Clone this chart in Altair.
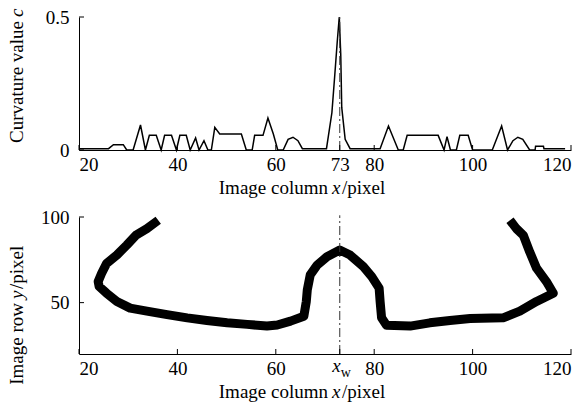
import altair as alt
import pandas as pd

# ---- top panel: curvature value c along image column x ----
col_x = [20, 26, 27, 29, 29.7, 31, 32.5, 33.5, 34.3, 35.7, 36.7, 37.4, 38.8, 39.8,
         40.5, 41.8, 42.6, 43.7, 44.4, 45.4, 46.2, 46.9, 47.6, 48.6, 53.0, 54.0,
         55.2, 55.7, 57.4, 58.4, 59.5, 60.4, 61.5, 62.5, 63.5, 64.5, 65.4, 70.3,
         71.4, 72.0, 72.5, 72.9, 73.2, 73.4, 74.1, 75.1, 81.2, 82.9, 84.9, 85.9,
         86.7, 93.0, 94.2, 94.8, 95.5, 96.7, 97.4, 99.1, 100.0, 104.0, 105.9, 107.1,
         108.2, 109.2, 110.2, 111.6, 112.7, 112.8, 114.4, 114.5, 118.8]
curv_c = [0.005, 0.005, 0.02, 0.02, 0.0, 0.0, 0.094, 0.0, 0.055, 0.055, 0.0, 0.055, 0.055, 0.0,
          0.055, 0.055, 0.0, 0.045, 0.0, 0.035, 0.0, 0.0, 0.085, 0.06, 0.06, 0.0,
          0.0, 0.055, 0.055, 0.12, 0.06, 0.0, 0.0, 0.04, 0.048, 0.035, 0.005, 0.005,
          0.14, 0.285, 0.41, 0.5, 0.36, 0.16, 0.04, 0.005, 0.005, 0.09, 0.0, 0.0,
          0.055, 0.055, 0.0, 0.05, 0.0, 0.0, 0.055, 0.055, 0.0, 0.0, 0.09, 0.0,
          0.035, 0.048, 0.04, 0.0, 0.0, 0.014, 0.014, 0.005, 0.005]

# ---- bottom panel: contour (image row y vs image column x) ----
contour_x = [36.1, 33.8, 31.6, 29.7, 27.7, 25.6, 24.6, 23.9, 24.1, 25.6, 27.7, 30.4,
             33.8, 37.9, 42.0, 46.0, 50.1, 54.2, 58.2, 60.3, 63.0, 65.7, 66.2, 66.4,
             67.0, 68.4, 70.4, 73.0, 75.1, 77.8, 79.5, 81.0, 81.2, 81.5, 82.5, 87.3,
             91.3, 95.4, 99.5, 106.2, 109.6, 113.0, 116.4, 115.0, 113.0, 111.6, 110.3,
             108.9, 107.6]
contour_y = [98.1, 93.2, 89.4, 83.6, 77.8, 72.9, 67.1, 62.3, 59.4, 55.5, 50.7, 46.8,
             45.0, 43.0, 41.1, 39.6, 38.2, 37.3, 36.3, 36.9, 39.2, 42.0, 50.7, 57.5,
             66.2, 71.9, 76.8, 80.7, 77.8, 71.0, 65.2, 58.5, 50.7, 41.1, 36.8, 36.3,
             38.2, 39.6, 40.7, 41.1, 45.0, 50.7, 55.5, 62.3, 70.1, 79.7, 89.4, 93.2,
             98.1]

x_ticks = [20, 40, 60, 73, 80, 100, 120]
top_y_ticks = [0, 0.5]
bot_y_ticks = [50, 100]
x_w = 73
top_y_domain = [0, 0.5]
bot_y_domain = [20, 100]
x_domain = [20, 120]

FONT = "Liberation Serif"
FS = 19
W, H1, H2 = 492, 133, 137

curve_df = pd.DataFrame({"x": col_x, "c": curv_c, "i": list(range(len(col_x)))})
contour_df = pd.DataFrame({"x": contour_x, "y": contour_y, "i": list(range(len(contour_x)))})
xt_df = pd.DataFrame({"x": x_ticks})
one = pd.DataFrame({"a": [0]})

xscale = alt.Scale(domain=x_domain, nice=False, zero=False)


def x_axis(hide_xw=False):
    kw = dict(values=x_ticks, ticks=False, grid=False, title=None, domainColor="black",
              domainWidth=1, labelFont=FONT, labelFontSize=FS, labelColor="black",
              labelPadding=5)
    if hide_xw:
        kw["labelExpr"] = "datum.value == 73 ? '' : datum.label"
    return alt.Axis(**kw)


def y_axis(vals, fmt):
    return alt.Axis(values=vals, ticks=False, grid=False, title=None, domainColor="black",
                    domainWidth=1, labelFont=FONT, labelFontSize=FS, labelColor="black",
                    labelPadding=10, format=fmt)


def txt(text, x, y, align, angle=0, italic=False, size=FS, baseline="alphabetic"):
    kw = dict(text=text, align=align, baseline=baseline, font=FONT, fontSize=size,
              color="black", angle=angle)
    if italic:
        kw["fontStyle"] = "italic"
    return alt.Chart(one).mark_text(**kw).encode(x=alt.value(x), y=alt.value(y))


def panel(line, yfield, y_ticks, y_bottom, y_top, H):
    rule = alt.Chart(pd.DataFrame({"x": [x_w], yfield: [y_bottom], "y1": [y_top]})).mark_rule(
        color="#333", strokeWidth=1, strokeDash=[9, 3, 2, 3]).encode(
        x=alt.X("x:Q", title=None), y=alt.Y(f"{yfield}:Q", title=None), y2="y1:Q")
    xt = alt.Chart(xt_df).mark_rule(color="black").encode(
        x=alt.X("x:Q", title=None), y=alt.value(H), y2=alt.value(H - 5))
    yt = alt.Chart(pd.DataFrame({yfield: y_ticks})).mark_rule(color="black").encode(
        y=alt.Y(f"{yfield}:Q", title=None), x=alt.value(0), x2=alt.value(5))
    return [line, rule, xt, yt]


# ---------------- top ----------------
top_line = alt.Chart(curve_df).mark_line(color="black", strokeWidth=1.5).encode(
    x=alt.X("x:Q", scale=xscale, axis=x_axis()),
    y=alt.Y("c:Q", scale=alt.Scale(domain=top_y_domain, nice=False), axis=y_axis(top_y_ticks, ".1~f")),
    order="i:Q",
)

top = alt.layer(
    *panel(top_line, "c", top_y_ticks, 0, 0.5, H1),
    txt("Image column", 249, H1 + 44, "right"),
    txt("x", 253, H1 + 44, "left", italic=True),
    txt("/pixel", 263, H1 + 44, "left"),
    txt("Curvature value", -62, 4, "right", angle=270, baseline="middle"),
    txt("c", -62, 0, "left", angle=270, italic=True, baseline="middle"),
).properties(width=W, height=H1)

# ---------------- bottom ----------------
bot_line = alt.Chart(contour_df).mark_line(color="black", strokeWidth=9, strokeJoin="round").encode(
    x=alt.X("x:Q", scale=xscale, axis=x_axis(hide_xw=True)),
    y=alt.Y("y:Q", scale=alt.Scale(domain=bot_y_domain, nice=False, zero=False), axis=y_axis(bot_y_ticks, "d")),
    order="i:Q",
)
xw_df = pd.DataFrame({"x": [x_w]})
xw_x = alt.Chart(xw_df).mark_text(text="x", align="right", baseline="alphabetic", font=FONT,
                                  fontSize=FS, fontStyle="italic", color="black", dx=1).encode(
    x=alt.X("x:Q", title=None), y=alt.value(H2 + 18))
xw_w = alt.Chart(xw_df).mark_text(text="w", align="left", baseline="alphabetic", font=FONT,
                                  fontSize=14, color="black", dx=1).encode(
    x=alt.X("x:Q", title=None), y=alt.value(H2 + 23))

bottom = alt.layer(
    *panel(bot_line, "y", bot_y_ticks, 20, 101, H2), xw_x, xw_w,
    txt("Image column", 249, H2 + 44, "right"),
    txt("x", 253, H2 + 44, "left", italic=True),
    txt("/pixel", 263, H2 + 44, "left"),
    txt("Image row", -62, 86, "right", angle=270, baseline="middle"),
    txt("y", -62, 82, "left", angle=270, italic=True, baseline="middle"),
    txt("/pixel", -62, 72, "left", angle=270, baseline="middle"),
).properties(width=W, height=H2)

chart = alt.vconcat(top, bottom, spacing=10).properties(
    padding=0
).configure_view(stroke=None)

chart.save("out.html", embed_options={"renderer": "svg", "actions": False})
